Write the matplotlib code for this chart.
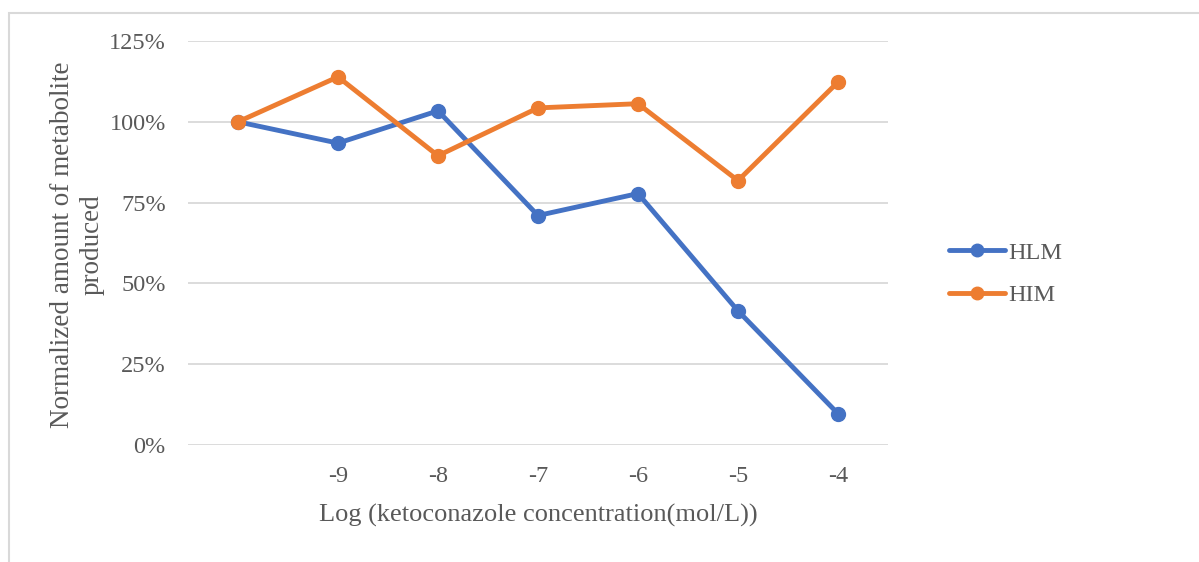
import matplotlib
matplotlib.use('Agg')
import matplotlib.pyplot as plt
from matplotlib.patches import Rectangle
from matplotlib.ticker import FuncFormatter

categories = ['', '-9', '-8', '-7', '-6', '-5', '-4']
hlm = [100, 93.4, 103.4, 71.0, 77.8, 41.5, 9.7]
him = [100, 113.9, 89.5, 104.3, 105.6, 81.8, 112.3]

plt.rcParams['font.family'] = ['Liberation Serif', 'DejaVu Serif']
txt = '#595959'

fig = plt.figure(figsize=(11.99, 5.62), dpi=100)
ax = fig.add_axes([188/1199, 1-445/562, 700/1199, 404/562])

x = list(range(len(categories)))
ax.plot(x, hlm, color='#4472C4', lw=3.5, marker='o', ms=10, label='HLM', solid_capstyle='round')
ax.plot(x, him, color='#ED7D31', lw=3.5, marker='o', ms=10, label='HIM', solid_capstyle='round')

ax.set_xlim(-0.5, len(categories) - 0.5)
ax.set_ylim(0, 125)
ax.set_yticks([0, 25, 50, 75, 100, 125])
ax.yaxis.set_major_formatter(FuncFormatter(lambda v, p: f'{v:.0f}%'))
ax.set_xticks(x)
ax.set_xticklabels(categories)
ax.grid(axis='y', color='#d9d9d9', lw=1.3)
ax.set_axisbelow(True)
for s in ax.spines.values():
    s.set_visible(False)
ax.tick_params(length=0, labelsize=17.5, colors=txt)
ax.tick_params(axis='x', pad=15)
ax.tick_params(axis='y', pad=16)

ax.set_xlabel('Log (ketoconazole concentration(mol/L))', fontsize=19, color=txt, labelpad=12)
fig.text(77/1199, 1-245/562, 'Normalized amount of metabolite\nproduced', rotation=90,
         ha='center', va='center', fontsize=19.5, color=txt, linespacing=1.25, multialignment='center')

fig.legend(loc='center left', bbox_to_anchor=(927/1199, 1-274/562), frameon=False,
           fontsize=17.5, labelcolor=txt, handlelength=2.3, handletextpad=0.15, labelspacing=0.85,
           markerscale=0.9)

fig.patches.append(Rectangle((9/1199, -0.1), 1.2, 1-13/562+0.1, transform=fig.transFigure,
                             fill=False, edgecolor='#d9d9d9', lw=1.5))

fig.savefig('out.png', dpi=100)
